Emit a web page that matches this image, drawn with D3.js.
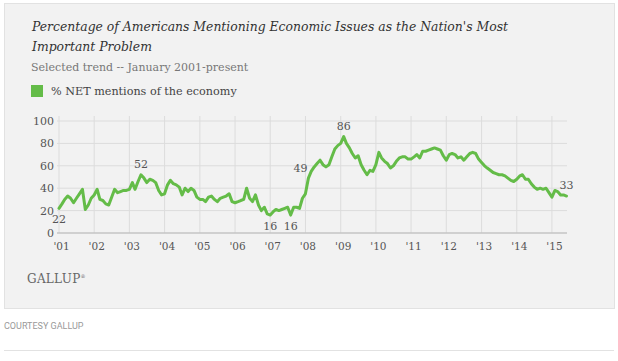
<!DOCTYPE html>
<html>
<head>
<meta charset="utf-8">
<script src="https://cdn.jsdelivr.net/npm/d3@7"></script>
<style>
  body { margin: 0; background: #fff; }
  svg { display: block; }
</style>
</head>
<body>
<div id="chart"></div>
<script>
// monthly % NET mentions of the economy, Jan 2001 - Jun 2015
var values = [
  22, 26, 30, 33, 31, 27, 31, 35, 39, 21, 25, 31,   // 2001
  34, 39, 30, 29, 26, 25, 32, 39, 36, 37, 38, 38,   // 2002
  39, 45, 39, 46, 52, 49, 45, 48, 47, 45, 38, 34,   // 2003
  35, 43, 47, 44, 43, 41, 34, 40, 37, 40, 38, 32,   // 2004
  30, 30, 28, 32, 33, 30, 28, 31, 32, 33, 35, 28,   // 2005
  27, 28, 29, 30, 40, 31, 28, 34, 25, 20, 23, 17,   // 2006
  16, 19, 21, 20, 21, 22, 23, 16, 23, 23, 22, 31,   // 2007
  35, 49, 55, 59, 62, 65, 61, 59, 61, 68, 75, 78,   // 2008
  80, 86, 80, 76, 71, 67, 69, 61, 56, 52, 56, 55,   // 2009
  61, 72, 67, 64, 62, 58, 60, 64, 67, 68, 68, 66,   // 2010
  66, 68, 70, 67, 73, 73, 74, 75, 76, 75, 74, 69,   // 2011
  65, 70, 71, 70, 67, 68, 65, 68, 71, 72, 71, 66,   // 2012
  63, 60, 58, 56, 54, 53, 52, 52, 51, 49, 47, 46,   // 2013
  48, 51, 52, 48, 48, 44, 41, 39, 40, 39, 40, 36,   // 2014
  32, 38, 37, 34, 34, 33                            // 2015
];
var startYear = 2001;
var yearLabels = ["'01","'02","'03","'04","'05","'06","'07","'08","'09","'10","'11","'12","'13","'14","'15"];
var yTicks = [0, 20, 40, 60, 80, 100];
// months that carry a value label
var labelMonths = [0, 28, 72, 79, 85, 97, 173];

var seriesName = "% NET mentions of the economy";
var green = "#64bc48";
var serif = "'DejaVu Serif', Georgia, serif";

var W = 618, H = 361;
var svg = d3.select("#chart").append("svg")
  .attr("width", W)
  .attr("height", H);

// gray panel
svg.append("rect")
  .attr("x", 4.5).attr("y", 3.5)
  .attr("width", 610).attr("height", 305)
  .attr("fill", "#f2f2f2")
  .attr("stroke", "#e2e2e2");

// title
var title = svg.append("text")
  .attr("x", 32)
  .attr("y", 31)
  .style("font-family", serif)
  .style("font-style", "italic")
  .style("font-size", "12.4px")
  .attr("fill", "#333");
title.append("tspan").attr("x", 32).text("Percentage of Americans Mentioning Economic Issues as the Nation's Most");
title.append("tspan").attr("x", 32).attr("dy", 19.5).text("Important Problem");

svg.append("text")
  .attr("x", 31)
  .attr("y", 71)
  .style("font-family", serif)
  .style("font-size", "11px")
  .attr("fill", "#777")
  .text("Selected trend -- January 2001-present");

// legend
svg.append("rect")
  .attr("x", 31).attr("y", 85)
  .attr("width", 12).attr("height", 12)
  .attr("fill", green);
svg.append("text")
  .attr("x", 51)
  .attr("y", 95)
  .style("font-family", serif)
  .style("font-size", "11.2px")
  .attr("fill", "#444")
  .text(seriesName);

// scales
var dates = values.map(function(v, i) { return new Date(startYear, i, 1); });

var x = d3.scaleTime()
  .domain([dates[0], dates[dates.length - 1]])
  .range([59, 566.5]);
var y = d3.scaleLinear()
  .domain([0, 100])
  .range([233, 121]);

var g = svg.append("g");

// horizontal grid
g.selectAll(".hgrid")
  .data(yTicks.filter(function(d) { return d > 0; }))
  .enter().append("line")
    .attr("x1", 57).attr("x2", 567)
    .attr("y1", function(d) { return y(d); })
    .attr("y2", function(d) { return y(d); })
    .attr("stroke", "#dcdcdc")
    .attr("stroke-width", 1);

// vertical grid at each january
var yearDates = yearLabels.map(function(l, i) { return new Date(startYear + i, 0, 1); });
g.selectAll(".vgrid")
  .data(yearDates)
  .enter().append("line")
    .attr("x1", function(d) { return x(d); })
    .attr("x2", function(d) { return x(d); })
    .attr("y1", 116).attr("y2", 233)
    .attr("stroke", "#dcdcdc")
    .attr("stroke-width", 1);

// baseline
g.append("line")
  .attr("x1", 57).attr("x2", 567)
  .attr("y1", y(0)).attr("y2", y(0))
  .attr("stroke", "#c4c4c4")
  .attr("stroke-width", 1.5);

// y axis labels
var yAxis = g.append("g")
  .attr("transform", "translate(54,0)")
  .call(d3.axisLeft(y).tickValues(yTicks).tickSize(0).tickPadding(0));
yAxis.select(".domain").remove();
yAxis.selectAll("text")
  .style("font-family", serif)
  .style("font-size", "11px")
  .attr("fill", "#555");

// x axis labels
var xAxis = g.append("g")
  .attr("transform", "translate(2,243)")
  .call(d3.axisBottom(x)
    .tickValues(yearDates)
    .tickFormat(function(d, i) { return yearLabels[i]; })
    .tickSize(0).tickPadding(0));
xAxis.select(".domain").remove();
xAxis.selectAll("text")
  .style("font-family", serif)
  .style("font-size", "10.5px")
  .attr("fill", "#555");

// the line
var line = d3.line()
  .x(function(d, i) { return x(dates[i]); })
  .y(function(d) { return y(d); });

g.append("path")
  .datum(values)
  .attr("d", line)
  .attr("fill", "none")
  .attr("stroke", green)
  .attr("stroke-width", 3)
  .attr("stroke-linejoin", "round")
  .attr("stroke-linecap", "round");

// value labels
function placeLabel(i) {
  // low points get labels below, the 49 sits to the left, others above
  if (i === 85) return { dx: -1, dy: -6, anchor: "end" };
  if (values[i] <= 22) return { dx: 0, dy: 15, anchor: "middle" };
  return { dx: 0, dy: -7, anchor: "middle" };
}
g.selectAll(".vlabel")
  .data(labelMonths)
  .enter().append("text")
    .attr("x", function(i) { return x(dates[i]) + placeLabel(i).dx; })
    .attr("y", function(i) { return y(values[i]) + placeLabel(i).dy; })
    .attr("text-anchor", function(i) { return placeLabel(i).anchor; })
    .style("font-family", serif)
    .style("font-size", "11px")
    .attr("fill", "#555")
    .text(function(i) { return values[i]; });

// brand
svg.append("text")
  .attr("x", 27)
  .attr("y", 283)
  .style("font-family", serif)
  .style("font-size", "12px")
  .style("letter-spacing", "0.3px")
  .attr("fill", "#666")
  .text("GALLUP")
  .append("tspan")
    .attr("dy", -5)
    .style("font-size", "5px")
    .text("®");

// caption + rule under the panel
svg.append("text")
  .attr("x", 4)
  .attr("y", 329)
  .style("font-family", "Roboto, sans-serif")
  .style("font-size", "9px")
  .attr("fill", "#999")
  .text("COURTESY GALLUP");

svg.append("line")
  .attr("x1", 4).attr("x2", 614)
  .attr("y1", 350.5).attr("y2", 350.5)
  .attr("stroke", "#e2e2e2");
</script>
</body>
</html>
